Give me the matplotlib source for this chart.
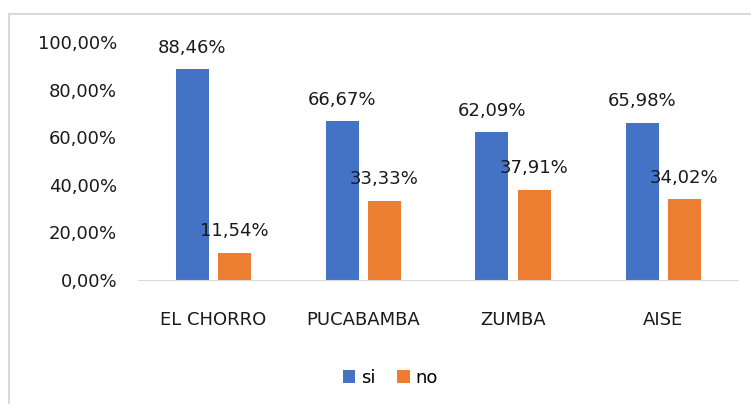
import numpy as np
import matplotlib.pyplot as plt
from matplotlib.patches import Rectangle
from matplotlib.ticker import FuncFormatter

# datos por zona
zonas = ['EL CHORRO', 'PUCABAMBA', 'ZUMBA', 'AISE']
si = [88.46, 66.67, 62.09, 65.98]
no = [11.54, 33.33, 37.91, 34.02]

azul = '#4472C4'
naranja = '#ED7D31'

def pct(v):
    return f'{v:.2f}%'.replace('.', ',')

fig = plt.figure(figsize=(7.51, 4.04), dpi=100)
ax = fig.add_axes([138 / 751, 1 - 280 / 404, 600 / 751, 238 / 404])

x = np.arange(len(zonas))
w = 0.22
b1 = ax.bar(x - 0.14, si, w, color=azul, label='si')
b2 = ax.bar(x + 0.14, no, w, color=naranja, label='no')

for barras, vals in [(b1, si), (b2, no)]:
    for r, v in zip(barras, vals):
        ax.annotate(pct(v), (r.get_x() + r.get_width() / 2, v),
                    xytext=(0, 9), textcoords='offset points',
                    ha='center', va='bottom', fontsize=13, color='#1a1a1a')

ax.set_xlim(-0.5, 3.5)
ax.set_ylim(0, 100)
ax.set_yticks(np.arange(0, 101, 20))
ax.yaxis.set_major_formatter(FuncFormatter(lambda v, p: pct(v)))
ax.set_xticks(x)
ax.set_xticklabels(zonas)
ax.tick_params(axis='both', length=0, labelsize=13, labelcolor='#1a1a1a')
ax.tick_params(axis='x', pad=22)
ax.tick_params(axis='y', pad=15)
for s in ['top', 'right', 'left']:
    ax.spines[s].set_visible(False)
ax.spines['bottom'].set_color('#D9D9D9')

fig.legend(loc='center', bbox_to_anchor=(390 / 751, 1 - 378 / 404), ncol=2,
           frameon=False, fontsize=13, handlelength=0.7, handleheight=0.7,
           handletextpad=0.3, columnspacing=1.2)

# marco exterior
fig.patches.append(Rectangle((9 / 751, -0.05), 2, 1 - 14 / 404 + 0.05,
                             transform=fig.transFigure, fill=False,
                             edgecolor='#D9D9D9', linewidth=1.5))

fig.savefig('out.png', dpi=100)
